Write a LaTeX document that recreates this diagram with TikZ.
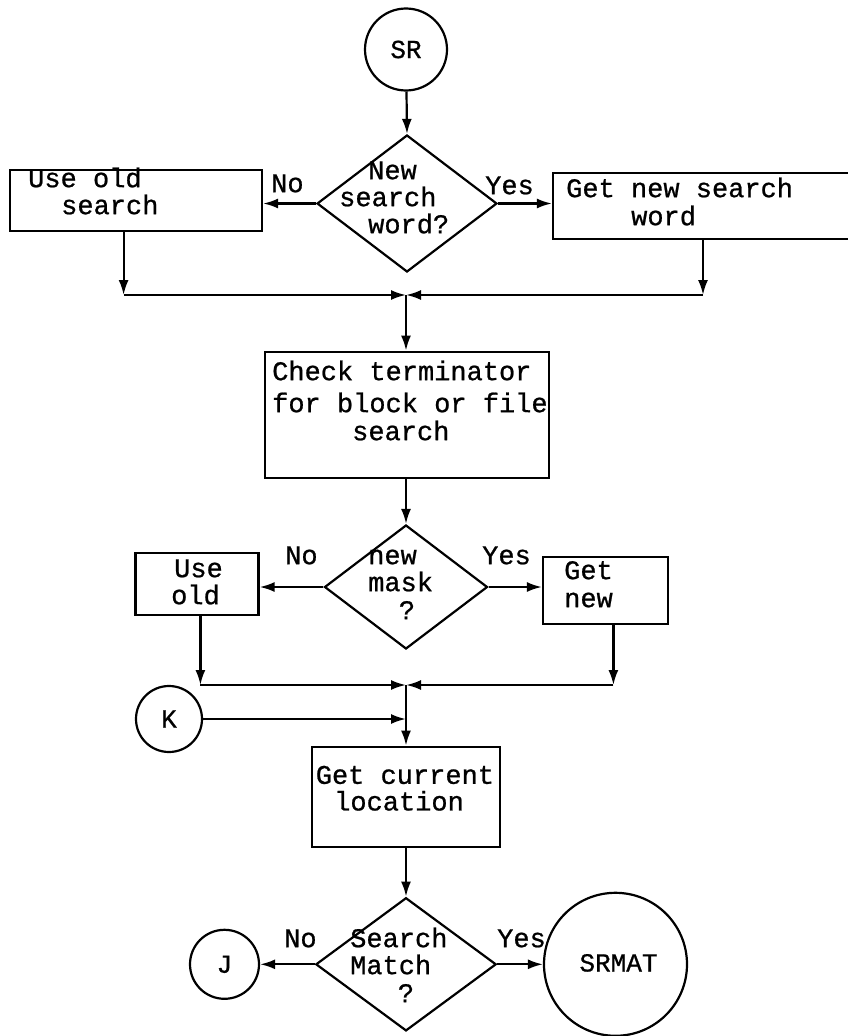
\documentclass[tikz,border=0pt]{standalone}
\usepackage{fontspec}
\newfontfamily\typew{Liberation Mono}[FakeBold=0.8]
\usetikzlibrary{shapes.geometric,arrows.meta}

\tikzset{
  ln/.style={line width=2.2pt},
  box/.style={draw, ln, rectangle, inner sep=0pt},
  decide/.style={draw, ln, diamond, inner sep=0pt},
  conn/.style={draw, ln, circle, inner sep=0pt, font=\typew\fontsize{26}{27}\selectfont},
  txt/.style={anchor=mid west, inner sep=0pt, font=\typew\fontsize{27}{28}\selectfont},
  ctxt/.style={anchor=mid, inner sep=0pt, font=\typew\fontsize{27}{28}\selectfont},
  arr/.style={ln, -{Latex[length=15pt,width=10pt]}},
}

\begin{document}
\begin{tikzpicture}[x=1pt, y=-1pt]
\useasboundingbox (0,0) rectangle (848,1036);

% ---- entry and first decision
\node[conn, minimum size=82pt] (sr) at (406,49.5) {SR};
\node[decide, minimum width=180pt, minimum height=137pt] (d1) at (407,203.5) {};
\node[box, minimum width=252pt, minimum height=61pt] (old1) at (136,200.5) {};
\node[box, minimum width=298pt, minimum height=66pt] (new1) at (702,206) {};

\node[txt] (t1a) at (28,185) {Use old};
\node[txt] (t1b) at (61,212) {search};
\node[txt] (t1c) at (368,177) {New};
\node[txt] (t1d) at (339,204) {search};
\node[txt] (t1e) at (368,231) {word?};
\node[txt] (t1f) at (566,195) {Get new search};
\node[txt] (t1g) at (631,223) {word};
\node[txt] (no1) at (271,190) {No};
\node[txt] (yes1) at (485,192) {Yes};

\draw[arr] (sr) -- (d1.north);
\draw[arr] (d1.west) -- (d1.west -| old1.east);
\draw[arr] (d1.east) -- (d1.east -| new1.west);

\coordinate (c1a) at (123.6,295);
\coordinate (c1b) at (703,295);
\coordinate (m1) at (406,295);
\draw[arr] (old1.south -| c1a) -- (c1a);
\draw[arr] (new1.south -| c1b) -- (c1b);
\draw[arr] (c1a) -- (m1);
\draw[arr] (c1b) -- (m1);

% ---- terminator check
\node[box, minimum width=284.5pt, minimum height=126pt] (chk) at (407,414.7) {};
\node[txt] (t2a) at (272,378) {Check terminator};
\node[txt] (t2b) at (272,410) {for block or file};
\node[txt] (t2c) at (352,438) {search};
\draw[arr] (m1) -- (m1 |- chk.north);

% ---- mask decision
\node[decide, minimum width=163pt, minimum height=124pt] (d2) at (406,587) {};
\node[box, minimum width=123pt, minimum height=62pt] (old2) at (197,584) {};
\node[box, minimum width=125pt, minimum height=67pt] (new2) at (605.5,590.3) {};
\draw[arr] (chk.south -| d2.north) -- (d2.north);

\node[txt] (t3a) at (174,575) {Use};
\node[txt] (t3b) at (171,602) {old};
\node[txt] (t3c) at (564,577) {Get};
\node[txt] (t3d) at (564,605) {new};
\node[txt] (t3e) at (368,562) {new};
\node[txt] (t3f) at (368,589) {mask};
\node[ctxt] (t3g) at (407,617) {?};
\node[txt] (no2) at (285,562) {No};
\node[txt] (yes2) at (482,562) {Yes};

\draw[arr] (d2.west) -- (d2.west -| old2.east);
\draw[arr] (d2.east) -- (d2.east -| new2.west);

\coordinate (c2a) at (200.4,685);
\coordinate (c2b) at (613.4,685);
\coordinate (m2) at (406,685);
\draw[arr] (old2.south -| c2a) -- (c2a);
\draw[arr] (new2.south -| c2b) -- (c2b);
\draw[arr] (c2a) -- (m2);
\draw[arr] (c2b) -- (m2);

% ---- re-entry point K
\node[conn, minimum size=66pt] (k) at (169,719) {K};
\coordinate (mk) at (406,719);
\draw[arr] (k.east) -- (mk);

% ---- current location
\node[box, minimum width=187.6pt, minimum height=100pt] (cur) at (406,796.7) {};
\node[txt] (t4a) at (315.6,781.7) {Get current};
\node[txt] (t4b) at (334,808.3) {location};
\draw[arr] (m2) -- (m2 |- cur.north);

% ---- match decision
\node[decide, minimum width=180.4pt, minimum height=133.2pt] (d3) at (406,964.3) {};
\draw[arr] (cur.south) -- (d3.north);
\node[txt] (t5a) at (350,945) {Search};
\node[txt] (t5b) at (350,972) {Match};
\node[ctxt] (t5c) at (406,1000) {?};
\node[txt] (no3) at (284,945) {No};
\node[txt] (yes3) at (497,945) {Yes};

\node[conn, minimum size=69pt] (j) at (224.5,964.3) {\raisebox{-8pt}{J}};
\node[conn, minimum size=143pt] (srmat) at (615.5,964.3) {\raisebox{3pt}{\hspace*{6pt}SRMAT}};
\draw[arr] (d3.west) -- (j.east);
\draw[arr] (d3.east) -- (srmat.west);
\end{tikzpicture}
\end{document}
